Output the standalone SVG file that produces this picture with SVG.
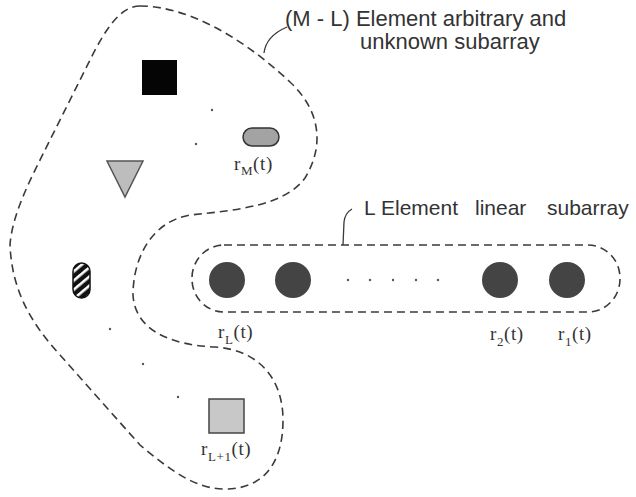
<svg xmlns="http://www.w3.org/2000/svg" width="636" height="497" viewBox="0 0 636 497">
  <style>
    .outline { fill: none; stroke: #3a3a3a; stroke-width: 1.6; stroke-dasharray: 8 5; }
    .leader { fill: none; stroke: #3a3a3a; stroke-width: 1.3; }
    .caption { font-family: "Liberation Sans", Arial, sans-serif; fill: #333; }
    .sig { font-family: "Liberation Serif", "Times New Roman", serif; font-size: 19px; fill: #333; letter-spacing: 0.6px; }
    .sub { font-size: 13px; }
    .elem { fill: #444; }
    .dot { fill: #555; }
  </style>
  <defs>
    <pattern id="stripes" width="7" height="7" patternUnits="userSpaceOnUse" patternTransform="rotate(-40)">
      <rect width="7" height="7" fill="#111"/>
      <rect width="7" height="2.6" y="2" fill="#fff"/>
    </pattern>
  </defs>

  <rect width="636" height="497" fill="#fff"/>

  <!-- boundaries of the two subarrays -->
  <g id="connectors">
    <path class="outline" d="M140,6 C185,6 240,35 290,82 C320,110 325,145 305,178 C285,205 240,210 190,215 C150,222 133,260 133,295 C135,330 170,345 215,347 C260,350 283,380 283,420 C283,465 262,489 225,489 C195,489 170,470 140,445 L60,355 C30,322 12,290 10,245 C12,215 30,180 45,150 L90,60 C105,30 120,6 140,6 Z"/>
    <rect class="outline" x="192" y="245" width="428" height="67" rx="32" ry="33"/>
    <path class="leader" d="M264,53 Q266,36 287,27"/>
    <path class="leader" d="M343,245 L344,222 Q345,213 352,209"/>
  </g>

  <!-- arbitrary subarray -->
  <g id="arbitrary-label">
    <text class="caption" font-size="22" x="285" y="26">(M - L) Element arbitrary and</text>
    <text class="caption" font-size="22" x="360" y="49">unknown subarray</text>
  </g>
  <g id="elem-square-black"><rect x="142" y="60" width="35" height="35" fill="#050505"/></g>
  <g id="elem-triangle"><polygon points="107,161 143,161 125,197" fill="#bdbdbd" stroke="#555" stroke-width="1.5"/></g>
  <g id="elem-M">
    <rect x="243" y="128" width="36" height="18" rx="9" fill="#a3a3a3" stroke="#333" stroke-width="1.5"/>
    <text class="sig" x="234" y="170">r<tspan class="sub" dy="5">M</tspan><tspan dy="-5">(t)</tspan></text>
  </g>
  <g id="elem-hatched"><rect x="73" y="263" width="17" height="35" rx="8.5" fill="url(#stripes)" stroke="#111" stroke-width="1.5"/></g>
  <g id="elem-L1">
    <rect x="209" y="399" width="35" height="34" fill="#c8c8c8" stroke="#444" stroke-width="1.5"/>
    <text class="sig" x="201" y="455">r<tspan class="sub" dy="6">L+1</tspan><tspan dy="-6">(t)</tspan></text>
  </g>
  <g id="arbitrary-dots">
    <circle class="dot" cx="212" cy="110" r="1.2"/>
    <circle class="dot" cx="196" cy="144" r="1.2"/>
    <circle class="dot" cx="110" cy="329" r="1.2"/>
    <circle class="dot" cx="143" cy="364" r="1.2"/>
    <circle class="dot" cx="178" cy="397" r="1.2"/>
  </g>

  <!-- linear subarray -->
  <g id="linear-label">
    <text class="caption" font-size="21" y="215"><tspan x="364">L</tspan><tspan x="381">Element</tspan><tspan x="475">linear</tspan><tspan x="547">subarray</tspan></text>
  </g>
  <g id="elem-rL">
    <circle class="elem" cx="227" cy="280" r="18"/>
    <text class="sig" x="218" y="338">r<tspan class="sub" dy="6">L</tspan><tspan dy="-6">(t)</tspan></text>
  </g>
  <g id="elem-rL-1"><circle class="elem" cx="293" cy="280" r="18"/></g>
  <g id="linear-dots">
    <circle class="dot" cx="348" cy="280" r="1.2"/>
    <circle class="dot" cx="370" cy="280" r="1.2"/>
    <circle class="dot" cx="393" cy="280" r="1.2"/>
    <circle class="dot" cx="416" cy="280" r="1.2"/>
    <circle class="dot" cx="438" cy="280" r="1.2"/>
  </g>
  <g id="elem-r2">
    <circle class="elem" cx="500" cy="280" r="18"/>
    <text class="sig" x="490" y="340">r<tspan class="sub" dy="6">2</tspan><tspan dy="-6">(t)</tspan></text>
  </g>
  <g id="elem-r1">
    <circle class="elem" cx="567" cy="280" r="18"/>
    <text class="sig" x="558" y="340">r<tspan class="sub" dy="6">1</tspan><tspan dy="-6">(t)</tspan></text>
  </g>
</svg>
